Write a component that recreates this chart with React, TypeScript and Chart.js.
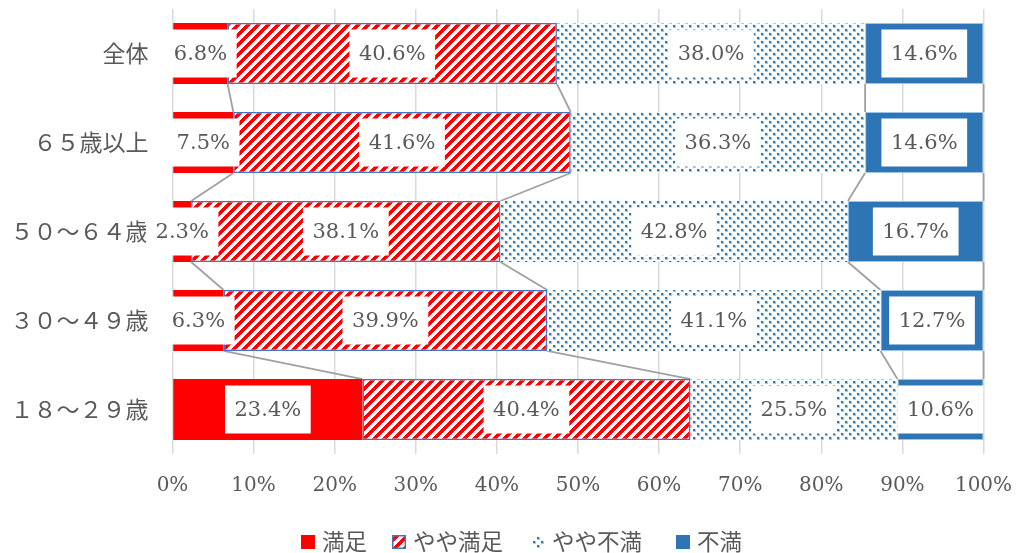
import { useEffect, useRef } from 'react';
import { Chart, registerables } from 'chart.js';

Chart.register(...registerables);

const categories = ['全体', '６５歳以上', '５０～６４歳', '３０～４９歳', '１８～２９歳'];
const seriesNames = ['満足', 'やや満足', 'やや不満', '不満'];
const satisfied = [6.8, 7.5, 2.3, 6.3, 23.4];
const somewhatSatisfied = [40.6, 41.6, 38.1, 39.9, 40.4];
const somewhatDissatisfied = [38.0, 36.3, 42.8, 41.1, 25.5];
const dissatisfied = [14.6, 14.6, 16.7, 12.7, 10.6];
const xTickLabels = ['0%', '10%', '20%', '30%', '40%', '50%', '60%', '70%', '80%', '90%', '100%'];

const RED = '#FF0000';
const BLUE = '#2E75B6';
const TEXT = '#595959';
const NUM_FONT = "'DejaVu Serif', serif";
const CJK_FONT = "'Noto Sans CJK JP', sans-serif";

function makeStripe(): CanvasPattern {
  const c = document.createElement('canvas');
  c.width = 10;
  c.height = 10;
  const ctx = c.getContext('2d')!;
  const img = ctx.createImageData(10, 10);
  for (let y = 0; y < 10; y++) {
    for (let x = 0; x < 10; x++) {
      const red = (x + y) % 10 < 5;
      const k = (y * 10 + x) * 4;
      img.data[k] = 255;
      img.data[k + 1] = red ? 0 : 255;
      img.data[k + 2] = red ? 0 : 255;
      img.data[k + 3] = 255;
    }
  }
  ctx.putImageData(img, 0, 0);
  return ctx.createPattern(c, 'repeat')!;
}

function makeDots(): CanvasPattern {
  const c = document.createElement('canvas');
  c.width = 8;
  c.height = 8;
  const ctx = c.getContext('2d')!;
  ctx.fillStyle = '#FFFFFF';
  ctx.fillRect(0, 0, 8, 8);
  ctx.fillStyle = '#A9C8E8';
  ctx.fillRect(1, 1, 3, 3);
  ctx.fillRect(5, 5, 3, 3);
  ctx.fillStyle = BLUE;
  ctx.fillRect(1, 1, 2, 2);
  ctx.fillRect(5, 5, 2, 2);
  return ctx.createPattern(c, 'repeat')!;
}

const zeroPadding = (s: any) => {
  s.paddingTop = 0;
  s.paddingBottom = 0;
  s.paddingLeft = 0;
  s.paddingRight = 0;
};

export default function App() {
  const ref = useRef<HTMLCanvasElement | null>(null);

  useEffect(() => {
    const canvas = ref.current;
    if (!canvas) return;
    const stripe = makeStripe();
    const dots = makeDots();
    const rawSeries = [satisfied, somewhatSatisfied, somewhatDissatisfied, dissatisfied];
    const totals = categories.map((_, j) => rawSeries.reduce((s, arr) => s + arr[j], 0));
    const norm = (arr: number[]) => arr.map((v, j) => (v / totals[j]) * 100);

    const seriesLines = {
      id: 'seriesLines',
      beforeDatasetsDraw(chart: any) {
        const ctx = chart.ctx;
        ctx.save();
        ctx.strokeStyle = '#A0A0A0';
        ctx.lineWidth = 1.8;
        chart.data.datasets.forEach((_: any, i: number) => {
          const els = chart.getDatasetMeta(i).data;
          for (let j = 0; j < els.length - 1; j++) {
            const a = els[j].getProps(['x', 'y', 'height'], true);
            const b = els[j + 1].getProps(['x', 'y', 'height'], true);
            ctx.beginPath();
            ctx.moveTo(a.x, a.y + a.height / 2);
            ctx.lineTo(b.x, b.y - b.height / 2);
            ctx.stroke();
          }
        });
        ctx.restore();
      },
    };

    const labels = {
      id: 'boxLabels',
      afterDatasetsDraw(chart: any) {
        const ctx = chart.ctx;
        ctx.save();
        ctx.font = `21px ${NUM_FONT}`;
        ctx.textAlign = 'center';
        ctx.textBaseline = 'middle';
        rawSeries.forEach((arr, i) => {
          const els = chart.getDatasetMeta(i).data;
          arr.forEach((v, j) => {
            const p = els[j].getProps(['x', 'base', 'y'], true);
            const cx = (p.x + p.base) / 2;
            const txt = v.toFixed(1) + '%';
            const w = ctx.measureText(txt).width + 19;
            const h = 48;
            ctx.fillStyle = '#FFFFFF';
            ctx.fillRect(cx - w / 2, p.y - h / 2, w, h);
            ctx.fillStyle = TEXT;
            ctx.fillText(txt, cx, p.y + 1);
          });
        });
        ctx.restore();
      },
    };

    const legend = {
      id: 'customLegend',
      afterDraw(chart: any) {
        const ctx = chart.ctx;
        ctx.save();
        ctx.font = `22.5px ${CJK_FONT}`;
        ctx.textBaseline = 'middle';
        ctx.textAlign = 'left';
        const markerX = [301, 392, 531, 676];
        const cy = 541;
        const box = 14;
        seriesNames.forEach((n, i) => {
          const x = markerX[i];
          const by = cy - box / 2 + 1;
          if (i === 0) {
            ctx.fillStyle = RED;
            ctx.fillRect(x, by, box, box);
          } else if (i === 1) {
            ctx.fillStyle = stripe;
            ctx.fillRect(x, by, box, box);
            ctx.strokeStyle = '#4472C4';
            ctx.lineWidth = 1.5;
            ctx.strokeRect(x + 0.75, by + 0.75, box - 1.5, box - 1.5);
          } else if (i === 2) {
            ctx.fillStyle = dots;
            ctx.fillRect(x + 1, by + 1, box - 2, box - 2);
          } else {
            ctx.fillStyle = BLUE;
            ctx.fillRect(x, by, box, box);
          }
          ctx.fillStyle = TEXT;
          ctx.fillText(n, x + box + 7, cy);
        });
        ctx.restore();
      },
    };

    const chart = new Chart(canvas, {
      type: 'bar',
      data: {
        labels: categories,
        datasets: [
          { label: seriesNames[0], data: norm(satisfied), backgroundColor: RED, borderWidth: 0 },
          {
            label: seriesNames[1],
            data: norm(somewhatSatisfied),
            backgroundColor: stripe as any,
            borderColor: '#4472C4',
            borderWidth: 1.5,
            borderSkipped: false,
          },
          { label: seriesNames[2], data: norm(somewhatDissatisfied), backgroundColor: dots as any, borderWidth: 0 },
          {
            label: seriesNames[3],
            data: norm(dissatisfied),
            backgroundColor: BLUE,
            borderColor: '#9DC3E6',
            borderWidth: 1,
            borderSkipped: false,
          },
        ],
      },
      options: {
        indexAxis: 'y',
        animation: false,
        responsive: false,
        layout: { autoPadding: false, padding: { left: 0, right: 35.5, top: 9, bottom: 49 } },
        datasets: { bar: { categoryPercentage: 1, barPercentage: 0.685 } },
        plugins: { legend: { display: false }, tooltip: { enabled: false } },
        scales: {
          x: {
            stacked: true,
            min: 0,
            max: 100,
            ticks: {
              stepSize: 10,
              callback: (_v: any, idx: number) => xTickLabels[idx],
              font: { family: NUM_FONT, size: 20 },
              color: TEXT,
              padding: 20,
              maxRotation: 0,
            },
            grid: { color: '#D9D9D9', lineWidth: 1.5, drawTicks: false },
            border: { display: false },
            afterFit: (s: any) => {
              s.height = 50;
              zeroPadding(s);
            },
          },
          y: {
            stacked: true,
            grid: { display: false, drawTicks: false },
            border: { display: false },
            ticks: { font: { family: CJK_FONT, size: 23 }, color: TEXT, padding: 24 },
            afterFit: (s: any) => {
              s.width = 172.5;
              zeroPadding(s);
            },
          },
        },
      } as any,
      plugins: [seriesLines, labels, legend],
    });
    return () => chart.destroy();
  }, []);

  return (
    <div style={{ position: 'absolute', left: 0, top: 0, width: 1019, height: 553, background: '#fff' }}>
      <canvas ref={ref} width={1019} height={553} style={{ display: 'block' }} />
    </div>
  );
}
